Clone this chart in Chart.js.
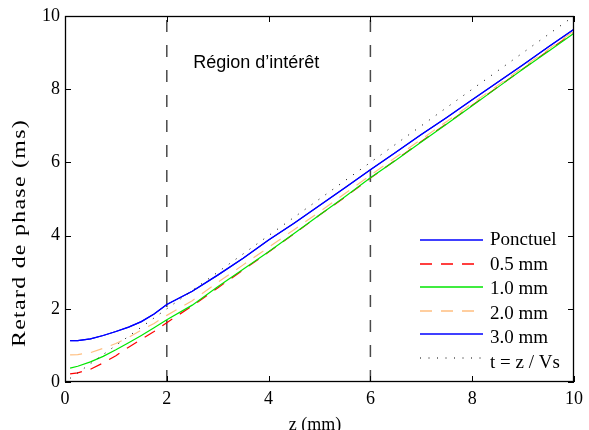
<!DOCTYPE html>
<html>
<head>
<meta charset="utf-8">
<script src="https://cdn.jsdelivr.net/npm/chart.js@4/dist/chart.umd.min.js"></script>
<style>
html, body { margin: 0; padding: 0; background: #fff; }
canvas { display: block; }
</style>
</head>
<body>
<canvas id="phaseChart" width="589" height="430"></canvas>
<script>
// Positions along z (mm)
const zValues = [0.1, 0.25, 0.5, 0.75, 1, 1.25, 1.5, 1.75, 2, 2.5, 3, 3.5, 4, 4.5, 5, 5.5, 6, 6.5, 7, 7.5, 8, 8.5, 9, 9.5, 10];

// Phase delay (ms) per source size
const ponctuel = [1.13, 1.13, 1.18, 1.27, 1.38, 1.50, 1.65, 1.86, 2.12, 2.48, 2.92, 3.38, 3.88, 4.34, 4.82, 5.31, 5.80, 6.28, 6.76, 7.23, 7.71, 8.19, 8.67, 9.16, 9.64];
const mm05 = [0.22, 0.25, 0.35, 0.52, 0.72, 0.95, 1.17, 1.38, 1.62, 2.08, 2.57, 3.06, 3.55, 4.05, 4.56, 5.05, 5.57, 6.07, 6.57, 7.06, 7.56, 8.06, 8.56, 9.06, 9.56];
const mm10 = [0.38, 0.43, 0.55, 0.70, 0.88, 1.07, 1.27, 1.48, 1.70, 2.10, 2.60, 3.08, 3.56, 4.06, 4.56, 5.06, 5.58, 6.06, 6.56, 7.05, 7.55, 8.05, 8.55, 9.04, 9.53];
const mm20 = [0.74, 0.75, 0.80, 0.92, 1.05, 1.22, 1.42, 1.60, 1.82, 2.22, 2.72, 3.20, 3.68, 4.16, 4.65, 5.15, 5.65, 6.14, 6.63, 7.12, 7.61, 8.10, 8.60, 9.09, 9.59];
const mm30 = [1.13, 1.13, 1.18, 1.27, 1.38, 1.50, 1.65, 1.86, 2.12, 2.48, 2.92, 3.38, 3.88, 4.34, 4.82, 5.31, 5.80, 6.28, 6.76, 7.23, 7.71, 8.19, 8.67, 9.16, 9.64];

// Reference line t = z / Vs
const theoryZ = [0.1, 10];
const theoryT = [0.1, 10];

// Region of interest bounds (mm) and y extent
const regionZ = [2, 6];
const regionY = [0, 10];

const xTicks = [0, 2, 4, 6, 8, 10];
const yTicks = [0, 2, 4, 6, 8, 10];

const SERIF = "'Liberation Serif', 'Times New Roman', serif";

function toPoints(xs, ys) {
    return xs.map((x, i) => ({ x: x, y: ys[i] }));
}

const series = [
    { label: 'Ponctuel',   data: ponctuel, color: '#0000ff', dash: [] },
    { label: '0.5 mm',     data: mm05,     color: '#ff0000', dash: [12, 9] },
    { label: '1.0 mm',     data: mm10,     color: '#00e600', dash: [] },
    { label: '2.0 mm',     data: mm20,     color: '#ffbf80', dash: [12, 9] },
    { label: '3.0 mm',     data: mm30,     color: '#0000ff', dash: [] }
];

const datasets = [];

// dashed region markers, drawn underneath
regionZ.forEach(z => {
    datasets.push({
        label: 'region',
        data: toPoints([z, z], regionY),
        borderColor: '#4a4a4a',
        borderWidth: 1.5,
        borderDash: [12, 13],
        pointRadius: 0,
        order: 20
    });
});

series.forEach((s, i) => {
    datasets.push({
        label: s.label,
        data: toPoints(zValues, s.data),
        borderColor: s.color,
        borderWidth: 1.2,
        borderDash: s.dash,
        pointRadius: 0,
        tension: 0,
        order: 10 - i
    });
});

datasets.push({
    label: 't = z / Vs',
    data: toPoints(theoryZ, theoryT),
    borderColor: '#000',
    borderWidth: 1,
    borderDash: [1, 7.5],
    pointRadius: 0,
    order: 1
});

const legendItems = series.map(s => ({ label: s.label, color: s.color, dash: s.dash, width: 1.3 }))
    .concat([{ label: 't = z / Vs', color: '#000', dash: [1, 7.5], width: 1 }]);

const annotatePlugin = {
    id: 'annotate',
    afterDatasetsDraw(chart) {
        const { ctx, chartArea: a, scales: { x, y } } = chart;
        ctx.save();

        // box frame
        ctx.strokeStyle = '#000';
        ctx.lineWidth = 1.3;
        ctx.strokeRect(a.left + 0.5, a.top + 0.5, a.right - a.left - 1, a.bottom - a.top - 1);

        // inward ticks on every side
        ctx.lineWidth = 1;
        ctx.beginPath();
        x.ticks.forEach(t => {
            const px = Math.round(x.getPixelForValue(t.value)) + 0.5;
            ctx.moveTo(px, a.bottom); ctx.lineTo(px, a.bottom - 6);
            ctx.moveTo(px, a.top); ctx.lineTo(px, a.top + 6);
        });
        y.ticks.forEach(t => {
            const py = Math.round(y.getPixelForValue(t.value)) + 0.5;
            ctx.moveTo(a.left, py); ctx.lineTo(a.left + 6, py);
            ctx.moveTo(a.right, py); ctx.lineTo(a.right - 6, py);
        });
        ctx.stroke();

        // region label
        ctx.fillStyle = '#000';
        ctx.font = "18px 'Liberation Sans', Arial, sans-serif";
        ctx.textAlign = 'left';
        ctx.textBaseline = 'middle';
        ctx.fillText('Région d’intérêt', x.getPixelForValue(2.52), y.getPixelForValue(8.72));

        // legend, no box
        ctx.font = '19px ' + SERIF;
        legendItems.forEach((item, i) => {
            const ly = 240 + Math.round(i * 23.6);
            ctx.beginPath();
            ctx.strokeStyle = item.color;
            ctx.lineWidth = item.width;
            ctx.setLineDash(item.dash);
            ctx.moveTo(420, ly);
            ctx.lineTo(483, ly);
            ctx.stroke();
            ctx.setLineDash([]);
            ctx.fillStyle = '#000';
            ctx.fillText(item.label, 490, 240.5 + i * 24.5);
        });

        // axis titles
        ctx.textAlign = 'center';
        ctx.textBaseline = 'alphabetic';
        ctx.font = '18px ' + SERIF;
        ctx.fillText('z (mm)', 315, 430);

        // y title is drawn stretched along its length, like the source figure
        ctx.font = '18px ' + SERIF;
        ctx.letterSpacing = '1px';
        const yTitle = 'Retard de phase (ms)';
        const w = ctx.measureText(yTitle).width;
        ctx.translate(24.5, 233);
        ctx.rotate(-Math.PI / 2);
        ctx.scale(228 / w, 1);
        ctx.fillText(yTitle, 0, 0);

        ctx.restore();
    }
};

new Chart(document.getElementById('phaseChart'), {
    type: 'line',
    data: { datasets: datasets },
    options: {
        responsive: false,
        animation: false,
        events: [],
        layout: { padding: { top: 16, right: 9, left: 0, bottom: 0 } },
        plugins: {
            legend: { display: false },
            tooltip: { enabled: false }
        },
        scales: {
            x: {
                type: 'linear',
                min: 0,
                max: 10,
                afterBuildTicks: scale => { scale.ticks = xTicks.map(v => ({ value: v })); },
                afterFit: scale => { scale.height = 48; },
                grid: { display: false, drawTicks: false },
                border: { display: false },
                ticks: { color: '#000', padding: 6, font: { family: SERIF, size: 18 } }
            },
            y: {
                type: 'linear',
                min: 0,
                max: 10,
                afterBuildTicks: scale => { scale.ticks = yTicks.map(v => ({ value: v })); },
                afterFit: scale => { scale.width = 65; },
                grid: { display: false, drawTicks: false },
                border: { display: false },
                ticks: { color: '#000', padding: 5, font: { family: SERIF, size: 18 } }
            }
        }
    },
    plugins: [annotatePlugin]
});
</script>
</body>
</html>
